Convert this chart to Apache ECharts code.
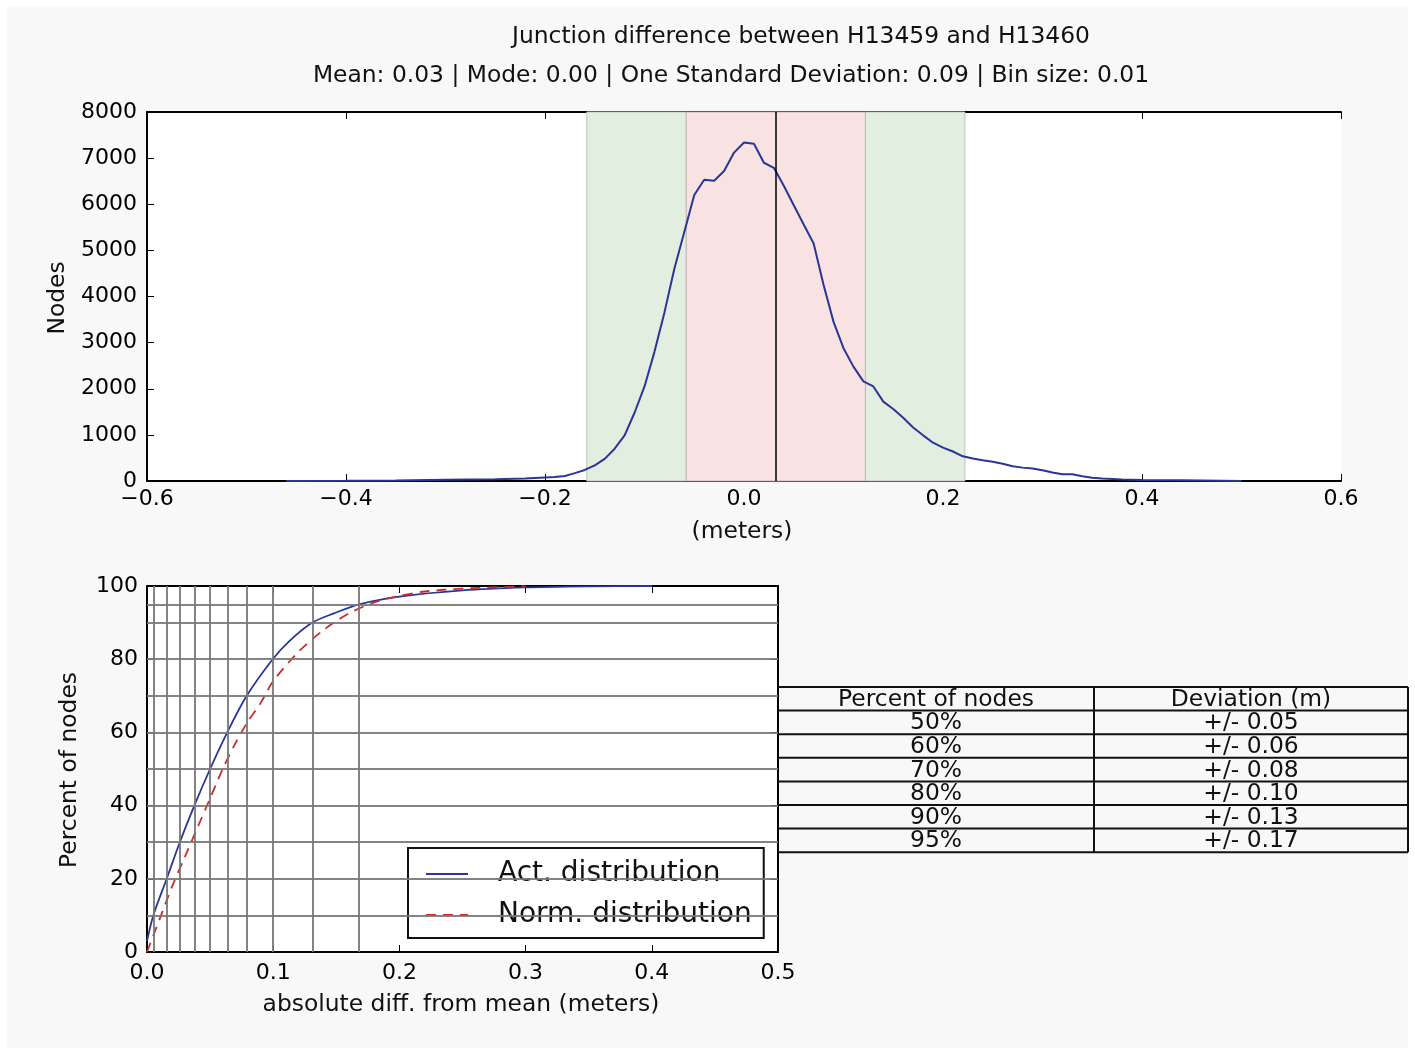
<!DOCTYPE html>
<html>
<head>
<meta charset="utf-8">
<script src="https://cdn.jsdelivr.net/npm/echarts@6/dist/echarts.min.js"></script>
<style type="text/css">
	body{
		margin: 0;
		background: #fff;
	}
	#chart_div{
		width: 1415px;
		height: 1053px;
	}
</style>
</head>
<body>
<div id="chart_div"></div>
<script>
	// histogram of differences (bin centres, node counts)
	var binX = [-0.46, -0.40, -0.35, -0.30, -0.25, -0.22, -0.21, -0.20, -0.19, -0.18, -0.17, -0.16, -0.15, -0.14, -0.13, -0.12, -0.11, -0.10,
		-0.09, -0.08, -0.07, -0.06, -0.05, -0.04, -0.03, -0.02, -0.01, 0.00, 0.01, 0.02, 0.03, 0.04, 0.05, 0.06, 0.07, 0.08, 0.09,
		0.10, 0.11, 0.12, 0.13, 0.14, 0.15, 0.16, 0.17, 0.18, 0.19, 0.20, 0.21, 0.22, 0.23, 0.24, 0.25, 0.26, 0.27, 0.28, 0.29,
		0.30, 0.31, 0.32, 0.33, 0.34, 0.35, 0.36, 0.37, 0.38, 0.40, 0.44, 0.48, 0.50];
	var binCount = [0, 5, 10, 25, 40, 55, 65, 75, 85, 110, 170, 240, 340, 480, 700, 990, 1480, 2050,
		2800, 3650, 4600, 5400, 6200, 6530, 6510, 6720, 7120, 7340, 7310, 6900, 6790, 6400, 5980, 5560, 5150, 4250, 3450,
		2880, 2480, 2160, 2050, 1720, 1560, 1370, 1160, 990, 830, 725, 640, 535, 490, 450, 415, 375, 320, 290, 270,
		235, 185, 145, 145, 105, 70, 55, 45, 35, 22, 15, 8, 0];
	var meanValue = 0.032;
	var oneStdBand = [-0.058, 0.122];
	var twoStdBand = [-0.158, 0.222];

	// cumulative curves of absolute difference from mean
	var actX = [0, 0.005, 0.0156, 0.026, 0.0375, 0.050, 0.0636, 0.079, 0.0996, 0.113, 0.131, 0.148, 0.168, 0.20, 0.25, 0.30, 0.35, 0.40];
	var actPct = [3, 10, 20, 30, 40, 50, 60, 70, 80, 85, 90, 92.5, 95, 97.1, 98.8, 99.6, 99.9, 100];
	var normX = [0, 0.01, 0.02, 0.03, 0.04, 0.05, 0.06, 0.07, 0.08, 0.09, 0.10, 0.12, 0.14, 0.16, 0.18, 0.20, 0.22, 0.25, 0.30];
	var normPct = [0, 9, 18, 26, 34, 42, 50, 57, 63, 68, 74, 82, 88, 92.5, 95.5, 97.3, 98.5, 99.3, 99.9];

	// percentile guide lines
	var pctLevels = [10, 20, 30, 40, 50, 60, 70, 80, 90, 95];
	var pctDistances = [0.005, 0.0156, 0.026, 0.0375, 0.050, 0.0636, 0.079, 0.0996, 0.131, 0.168];

	// table
	var tableHeader = ['Percent of nodes', 'Deviation (m)'];
	var tablePct = ['50%', '60%', '70%', '80%', '90%', '95%'];
	var tableDev = ['+/- 0.05', '+/- 0.06', '+/- 0.08', '+/- 0.10', '+/- 0.13', '+/- 0.17'];

	var FONT = 'DejaVu Sans';
	var lineBlue = '#2b3597';
	var lineRed = '#cc2b2b';
	var gridGray = '#777777';

	function zip(xs, ys){
		var out = [];
		for (var i = 0; i < xs.length; i++) {
			out.push([xs[i], ys[i]]);
		}
		return out;
	}
	function fmt1(v){
		var r = Math.round(v * 10) / 10;
		return (r < 0 ? '\u2212' : '') + Math.abs(r).toFixed(1);
	}
	function textEl(txt, x, y, size, rot){
		return {
			type: 'text', x: x, y: y, rotation: rot || 0, silent: true, z: 11,
			style: {text: txt, fill: '#111', font: size + 'px "' + FONT + '"', textAlign: 'center', textVerticalAlign: 'middle'}
		};
	}

	var labelStyle = {color: '#000', fontFamily: FONT, fontSize: 22};
	var frame = {show: true, onZero: false, lineStyle: {color: '#000', width: 2}};
	var tick = {show: true, inside: true, length: 7, lineStyle: {color: '#000', width: 1}};

	// table graphics
	var tableGraphic = [];
	var tLeft = 778, tMid = 1094, tRight = 1408, tTop = 687, rowH = 23.6;
	var rows = [tableHeader];
	for (var i = 0; i < tablePct.length; i++) {
		rows.push([tablePct[i], tableDev[i]]);
	}
	for (var r = 0; r <= rows.length; r++) {
		tableGraphic.push({
			type: 'line', silent: true, z: 10,
			shape: {x1: tLeft, y1: tTop + r * rowH, x2: tRight, y2: tTop + r * rowH},
			style: {stroke: '#111', lineWidth: 2}
		});
	}
	[tMid, tRight].forEach(function(x){
		tableGraphic.push({
			type: 'line', silent: true, z: 10,
			shape: {x1: x, y1: tTop, x2: x, y2: tTop + rows.length * rowH},
			style: {stroke: '#111', lineWidth: 2}
		});
	});
	rows.forEach(function(row, r){
		tableGraphic.push(textEl(row[0], (tLeft + tMid) / 2, tTop + r * rowH + rowH / 2 + 1, 23.4));
		tableGraphic.push(textEl(row[1], (tMid + tRight) / 2, tTop + r * rowH + rowH / 2 + 1, 23.4));
	});

	var guideLines = [];
	pctDistances.forEach(function(v){ guideLines.push({xAxis: v}); });
	pctLevels.forEach(function(v){ guideLines.push({yAxis: v}); });

	var option = {
		backgroundColor: '#fff',
		animation: false,
		graphic: [
			{type: 'rect', z: -10, silent: true, shape: {x: 7, y: 7, width: 1401, height: 1041}, style: {fill: '#f8f8f8'}},
			textEl('Junction difference between H13459 and H13460', 801, 37, 23.4),
			textEl('Mean: 0.03 | Mode: 0.00 | One Standard Deviation: 0.09 | Bin size: 0.01', 731, 76, 23.4),
			textEl('Nodes', 58, 298, 23.4, Math.PI / 2),
			textEl('(meters)', 742, 532, 23.4),
			textEl('Percent of nodes', 70, 770, 23.4, Math.PI / 2),
			textEl('absolute diff. from mean (meters)', 461, 1005, 23.4)
		].concat(tableGraphic),
		grid: [
			{left: 147, top: 112, width: 1194, height: 369, show: true, backgroundColor: '#fff', borderWidth: 0},
			{left: 147, top: 586, width: 631, height: 366, show: true, backgroundColor: '#fff', borderWidth: 0}
		],
		legend: {
			left: 408, top: 848,
			orient: 'vertical',
			data: ['Act. distribution', 'Norm. distribution'],
			backgroundColor: '#fff',
			borderColor: '#111',
			borderWidth: 2,
			borderRadius: 0,
			padding: [11, 12, 8, 17],
			itemWidth: 42,
			itemHeight: 14,
			itemGap: 11,
			itemStyle: {opacity: 0},
			textStyle: {color: '#111', fontFamily: FONT, fontSize: 28, lineHeight: 30, padding: [0, 0, 0, 25]}
		},
		xAxis: [
			{
				gridIndex: 0, type: 'value', min: -0.6, max: 0.6, interval: 0.2,
				axisLine: frame, axisTick: tick, splitLine: {show: false},
				axisLabel: Object.assign({margin: 7, formatter: fmt1}, labelStyle)
			},
			{
				gridIndex: 0, type: 'value', position: 'top', min: -0.6, max: 0.6, interval: 0.2,
				axisLine: frame, axisTick: tick, splitLine: {show: false}, axisLabel: {show: false}
			},
			{
				gridIndex: 1, type: 'value', min: 0, max: 0.5, interval: 0.1,
				axisLine: frame, axisTick: tick, splitLine: {show: false},
				axisLabel: Object.assign({margin: 10, formatter: function(v){ return v.toFixed(1); }}, labelStyle)
			},
			{
				gridIndex: 1, type: 'value', position: 'top', min: 0, max: 0.5, interval: 0.1,
				axisLine: frame, axisTick: tick, splitLine: {show: false}, axisLabel: {show: false}
			}
		],
		yAxis: [
			{
				gridIndex: 0, type: 'value', min: 0, max: 8000, interval: 1000,
				axisLine: frame, axisTick: tick, splitLine: {show: false},
				axisLabel: Object.assign({margin: 10, formatter: function(v){ return String(v); }}, labelStyle)
			},
			{
				gridIndex: 0, type: 'value', position: 'right', min: 0, max: 8000, interval: 1000,
				axisLine: {show: false}, axisTick: tick, splitLine: {show: false}, axisLabel: {show: false}
			},
			{
				gridIndex: 1, type: 'value', min: 0, max: 100, interval: 20,
				axisLine: frame, axisTick: tick, splitLine: {show: false},
				axisLabel: Object.assign({margin: 9, formatter: function(v){ return String(v); }}, labelStyle)
			},
			{
				gridIndex: 1, type: 'value', position: 'right', min: 0, max: 100, interval: 20,
				axisLine: frame, axisTick: tick, splitLine: {show: false}, axisLabel: {show: false}
			}
		],
		series: [
			{
				// two-sigma bands
				name: 'bands', type: 'line', xAxisIndex: 0, yAxisIndex: 0, z: 1,
				data: [[meanValue, 0]], symbol: 'none', silent: true,
				markArea: {
					silent: true,
					itemStyle: {color: '#e2eee0', borderColor: '#b9c4b8', borderWidth: 1},
					data: [
						[{xAxis: twoStdBand[0]}, {xAxis: oneStdBand[0]}],
						[{xAxis: oneStdBand[1]}, {xAxis: twoStdBand[1]}]
					]
				}
			},
			{
				// one-sigma band and mean line
				name: 'band1', type: 'line', xAxisIndex: 0, yAxisIndex: 0, z: 1,
				data: [[meanValue, 0]], symbol: 'none', silent: true,
				markArea: {
					silent: true,
					itemStyle: {color: '#f8e2e2', borderColor: '#c6b4b4', borderWidth: 1},
					data: [[{xAxis: oneStdBand[0]}, {xAxis: oneStdBand[1]}]]
				},
				markLine: {
					silent: true, symbol: 'none', label: {show: false}, precision: 4,
					lineStyle: {color: '#000', width: 1.5, type: 'solid'},
					data: [{xAxis: meanValue}]
				}
			},
			{
				name: 'Nodes', type: 'line', xAxisIndex: 0, yAxisIndex: 0, z: 4,
				data: zip(binX, binCount), symbol: 'none',
				lineStyle: {color: lineBlue, width: 2}
			},
			{
				name: 'Act. distribution', type: 'line', xAxisIndex: 2, yAxisIndex: 2, z: 3,
				data: zip(actX, actPct), symbol: 'none', smooth: 0.3,
				itemStyle: {color: lineBlue},
				lineStyle: {color: lineBlue, width: 1.8}
			},
			{
				name: 'Norm. distribution', type: 'line', xAxisIndex: 2, yAxisIndex: 2, z: 3,
				data: zip(normX, normPct), symbol: 'none', smooth: 0.3,
				itemStyle: {color: lineRed},
				lineStyle: {color: lineRed, width: 1.8, type: [10, 7]}
			},
			{
				name: 'guides', type: 'line', xAxisIndex: 2, yAxisIndex: 2, z: 5,
				data: [[0, 0]], symbol: 'none', silent: true,
				markLine: {
					silent: true, symbol: 'none', label: {show: false}, precision: 4,
					lineStyle: {color: gridGray, width: 2, type: 'solid', opacity: 0.9},
					data: guideLines
				}
			}
		]
	};

	var chart = echarts.init(document.getElementById('chart_div'));
	chart.setOption(option);
</script>
</body>
</html>
